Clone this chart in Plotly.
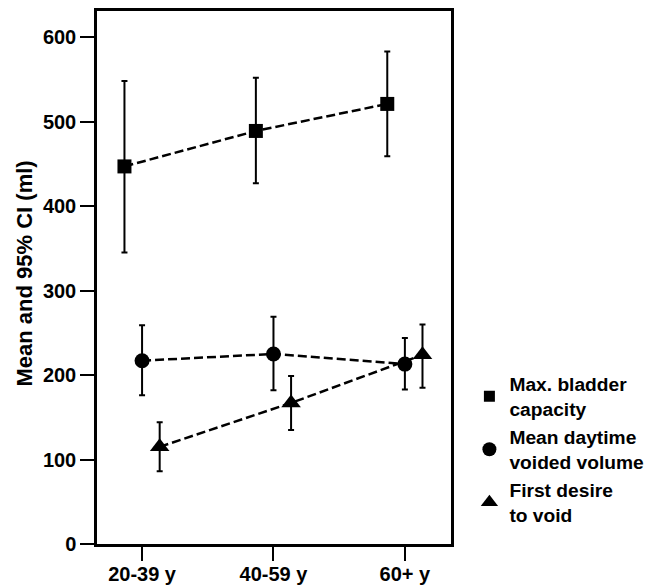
import plotly.graph_objects as go

groups = ["20-39 y", "40-59 y", "60+ y"]
y_ticks = [0, 100, 200, 300, 400, 500, 600]
y_title = "Mean and 95% CI (ml)"

cap_mean = [447, 489, 521]
cap_lo = [345, 427, 459]
cap_hi = [548, 552, 583]

vol_mean = [217, 225, 213]
vol_lo = [176, 182, 183]
vol_hi = [259, 269, 244]

fd_mean = [115, 167, 224]
fd_lo = [86, 135, 185]
fd_hi = [144, 199, 260]

series = [
    ("Max. bladder<br>capacity", cap_mean, cap_lo, cap_hi, "square", -0.134, 14, 11),
    ("Mean daytime<br>voided volume", vol_mean, vol_lo, vol_hi, "circle", 0.0, 15, 14),
    ("First desire<br>to void", fd_mean, fd_lo, fd_hi, "triangle-up", 0.134, 17, 15),
]

FONT = "Liberation Sans, Arial, sans-serif"
fig = go.Figure()
for name, m, lo, hi, sym, off, size, lsize in series:
    xs = [i + off for i in range(len(groups))]
    fig.add_trace(go.Scatter(
        x=xs, y=m, name=name, mode="lines+markers", showlegend=False,
        line=dict(color="black", width=2.5, dash="9px,4px"),
        marker=dict(symbol=sym, size=size, color="black"),
        error_y=dict(type="data", symmetric=False,
                     array=[h - v for h, v in zip(hi, m)],
                     arrayminus=[v - l for v, l in zip(m, lo)],
                     color="black", thickness=2, width=3),
    ))
for name, m, lo, hi, sym, off, size, lsize in series:
    fig.add_trace(go.Scatter(
        x=[None], y=[None], name=name, mode="markers",
        marker=dict(symbol=sym, size=lsize, color="black"),
    ))

fig.add_annotation(
    text=y_title, textangle=-90, xref="paper", yref="paper", x=0, y=0.5,
    xanchor="center", yanchor="middle", xshift=-73, yshift=4, showarrow=False,
    font=dict(family=FONT, size=22, color="black", weight="bold"),
)

fig.update_layout(
    width=644, height=579,
    margin=dict(l=89, r=194, t=3, b=43),
    plot_bgcolor="white", paper_bgcolor="white",
    font=dict(family=FONT, size=20, color="black", weight="bold"),
    showlegend=True,
    legend=dict(x=1.052, y=0.336, xanchor="left", yanchor="top",
                font=dict(family=FONT, size=19.2, color="black", weight="bold"),
                itemsizing="trace", bgcolor="rgba(0,0,0,0)", tracegroupgap=0),
    xaxis=dict(range=[-0.343, 2.351], tickmode="array", tickvals=[0, 1, 2],
               ticktext=groups, showline=True, linecolor="black", linewidth=2.5,
               mirror=True, ticks="outside", ticklen=14, tickwidth=2,
               tickcolor="black", showgrid=False, zeroline=False,
               automargin=False, ticklabelstandoff=-4, tickfont=dict(size=20)),
    yaxis=dict(range=[0, 631], tickmode="array", tickvals=y_ticks,
               showline=True, linecolor="black", linewidth=2.5, mirror=True,
               ticks="outside", ticklen=14, tickwidth=2, tickcolor="black",
               showgrid=False, zeroline=False, automargin=False,
               tickfont=dict(size=20)),
)

fig.write_html("out.html")
